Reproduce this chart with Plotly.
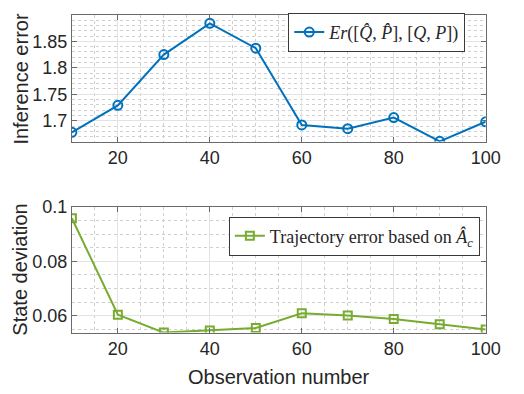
import plotly.graph_objects as go

obs = [10, 20, 30, 40, 50, 60, 70, 80, 90, 100]
inference_error = [1.678, 1.729, 1.825, 1.884, 1.837, 1.692, 1.685, 1.706, 1.661, 1.698]
state_deviation = [0.0958, 0.0604, 0.0538, 0.0546, 0.0555, 0.0609, 0.0601, 0.0588, 0.0569, 0.0549]
x_ticks = [20, 40, 60, 80, 100]
top_y_ticks = [1.7, 1.75, 1.8, 1.85]
top_y_labels = ["1.7", "1.75", "1.8", "1.85"]
bot_y_ticks = [0.06, 0.08, 0.1]
bot_y_labels = ["0.06", "0.08", "0.1"]

W, H = 524, 394
BLUE = "#0072BD"
GREEN = "#77AC30"
AX = "#6a6a6a"
GRID = "#e3e3e3"
MINOR = "#cfcfcf"
TXT = "#262626"
FONT = "Liberation Sans, Arial, sans-serif"
SERIF = "Liberation Serif, Times New Roman, serif"

fig = go.Figure()
fig.add_trace(go.Scatter(
    x=obs, y=inference_error, mode="lines+markers",
    name="<i>Er</i>([<i>Q&#770;</i>, <i>P&#770;</i>], [<i>Q</i>, <i>P</i>])",
    line=dict(color=BLUE, width=2),
    marker=dict(symbol="circle-open", size=9, color=BLUE, line=dict(width=2, color=BLUE)),
    xaxis="x", yaxis="y", legend="legend"))
fig.add_trace(go.Scatter(
    x=obs, y=state_deviation, mode="lines+markers",
    name="Trajectory error based on <i>Â</i><sub><i>c</i></sub>",
    line=dict(color=GREEN, width=2),
    marker=dict(symbol="square-open", size=8, color=GREEN, line=dict(width=2, color=GREEN)),
    xaxis="x2", yaxis="y2", legend="legend2"))

def px_x(p):
    return p / W

def px_y(p):
    return 1 - p / H

common_axis = dict(
    showline=True, linecolor=AX, linewidth=1, mirror="ticks",
    ticks="inside", ticklen=5, tickcolor=AX, tickwidth=1,
    showgrid=True, gridcolor=GRID, gridwidth=1, zeroline=False,
    tickfont=dict(family=FONT, size=18, color=TXT),
)

fig.update_layout(
    width=W, height=H, margin=dict(l=0, r=0, t=0, b=0),
    paper_bgcolor="white", plot_bgcolor="white",
    font=dict(family=FONT, color=TXT),
    xaxis=dict(domain=[px_x(74), px_x(500)], range=[10, 100], anchor="y",
               tickvals=x_ticks,
               minor=dict(dtick=5, tick0=10, showgrid=True, griddash="dot", gridcolor=MINOR, ticks=""),
               **common_axis),
    yaxis=dict(domain=[px_y(135), px_y(5)], range=[1.6606, 1.9], anchor="x",
               tickvals=top_y_ticks, ticktext=top_y_labels,
               minor=dict(dtick=0.01, tick0=1.7, showgrid=True, griddash="dot", gridcolor=MINOR, ticks=""),
               **common_axis),
    xaxis2=dict(domain=[px_x(74), px_x(500)], range=[10, 100], anchor="y2",
                tickvals=x_ticks,
                minor=dict(dtick=5, tick0=10, showgrid=True, griddash="dot", gridcolor=MINOR, ticks=""),
                **common_axis),
    yaxis2=dict(domain=[px_y(331), px_y(202)], range=[0.0538, 0.1], anchor="x2",
                tickvals=bot_y_ticks, ticktext=bot_y_labels,
                minor=dict(dtick=0.005, tick0=0.06, showgrid=True, griddash="dot", gridcolor=MINOR, ticks=""),
                **common_axis),
    legend=dict(x=px_x(479), y=px_y(3), xanchor="right", yanchor="top",
                bgcolor="white", bordercolor="#3a3a3a", borderwidth=1,
                font=dict(family=SERIF, size=18, color=TXT),
                itemwidth=30, tracegroupgap=0),
    legend2=dict(x=px_x(494), y=px_y(212), xanchor="right", yanchor="top",
                 bgcolor="white", bordercolor="#3a3a3a", borderwidth=1,
                 font=dict(family=SERIF, size=18, color=TXT),
                 itemwidth=30, tracegroupgap=0),
    showlegend=True,
    annotations=[
        dict(text="Inference error", xref="paper", yref="paper",
             x=px_x(22), y=px_y(70), textangle=-90, showarrow=False,
             xanchor="center", yanchor="middle",
             font=dict(family=FONT, size=20, color=TXT)),
        dict(text="State deviation", xref="paper", yref="paper",
             x=px_x(21), y=px_y(266), textangle=-90, showarrow=False,
             xanchor="center", yanchor="middle",
             font=dict(family=FONT, size=20, color=TXT)),
        dict(text="Observation number", xref="paper", yref="paper",
             x=px_x(287), y=px_y(377), showarrow=False,
             xanchor="center", yanchor="middle",
             font=dict(family=FONT, size=20, color=TXT)),
    ],
)

fig.write_html("out.html")
